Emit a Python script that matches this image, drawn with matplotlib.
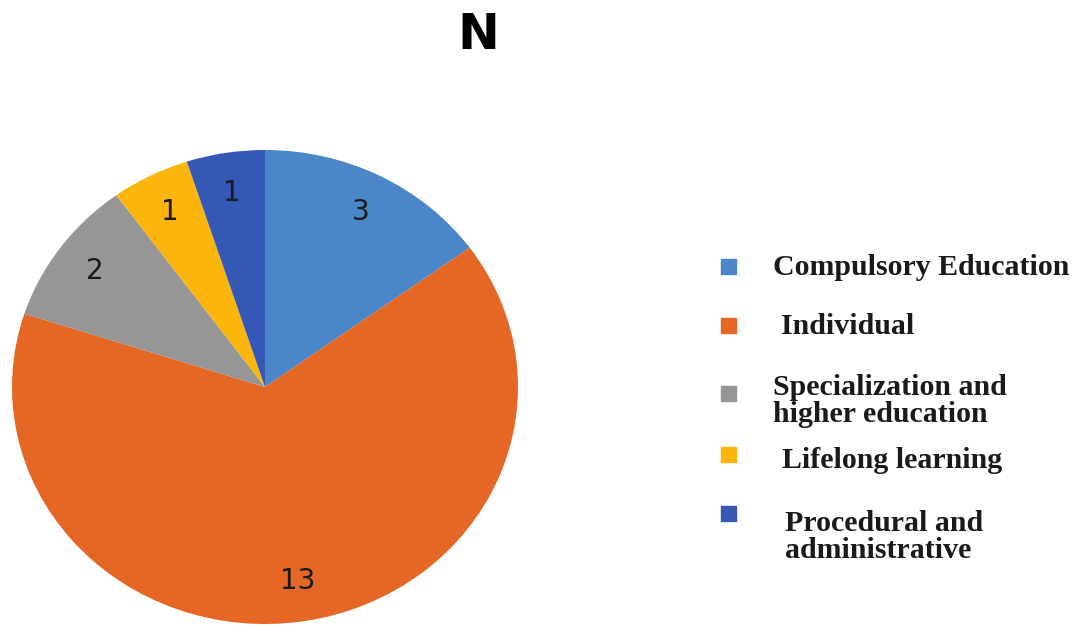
import matplotlib.pyplot as plt
from matplotlib.patches import Rectangle

# DATA
categories = ["Compulsory Education", "Individual",
              "Specialization and\nhigher education", "Lifelong learning",
              "Procedural and\nadministrative"]
values = [3, 13, 2, 1, 1]
colors = ["#4A86C8", "#E46726", "#969696", "#FBB50D", "#3558B4"]

W, H = 1079, 627
fig = plt.figure(figsize=(W / 100, H / 100), dpi=100)

# pie is slightly stretched horizontally in the reference, so aspect auto
cx, cy, rx, ry = 265, 387, 253, 237
ax = fig.add_axes([(cx - rx) / W, 1 - (cy + ry) / H, 2 * rx / W, 2 * ry / H])
ax.pie(values, colors=colors, startangle=90, counterclock=False,
       autopct=lambda p: f"{round(p * sum(values) / 100):d}",
       pctdistance=0.83, textprops=dict(fontsize=20, color="#1a1a1a"),
       wedgeprops=dict(linewidth=0))
ax.set_xlim(-1, 1)
ax.set_ylim(-1, 1)
ax.set_aspect("auto")
ax.axis("off")

fig.text(478 / W, 1 - 35 / H, "N", fontsize=36, fontweight="bold",
         ha="center", va="center", family="DejaVu Sans")

# legend, drawn by hand to keep the uneven spacing
sq_y = [266, 325, 393, 454, 513]
txt_x = [773, 781, 773, 782, 785]
txt_y = [268, 326, 401, 460, 537]
sq = 15
for lab, col, sy, tx, ty in zip(categories, colors, sq_y, txt_x, txt_y):
    fig.patches.append(Rectangle((721 / W, 1 - (sy + sq / 2) / H), sq / W, sq / H,
                                 transform=fig.transFigure, color=col))
    fig.text(tx / W, 1 - ty / H, lab, fontsize=21.5, fontweight="bold",
             family="Liberation Serif", ha="left", va="center",
             linespacing=1.0, color="#1a1a1a")

fig.savefig("out.png", dpi=100)
